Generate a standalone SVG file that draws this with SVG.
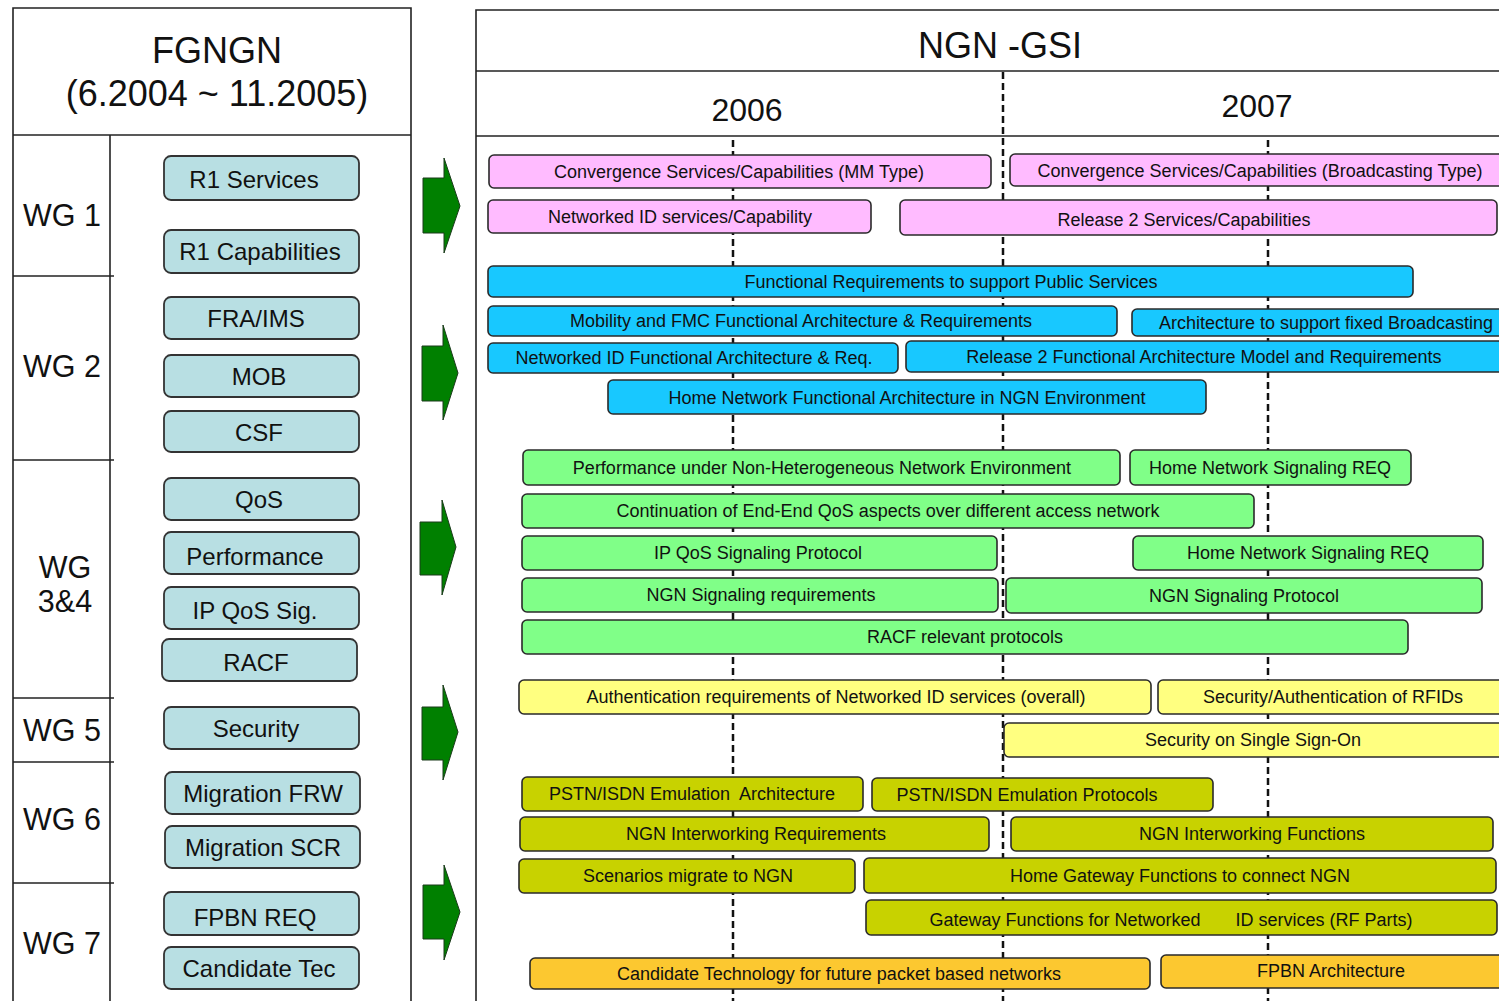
<svg xmlns="http://www.w3.org/2000/svg" width="1499" height="1001" viewBox="0 0 1499 1001">
  <style>
    text { font-family: "Liberation Sans", Arial, sans-serif; fill: #111; }
    .frame { fill: none; stroke: #222; stroke-width: 1.6; }
    .rule { stroke: #222; stroke-width: 1.6; }
    .wg { font-size: 30.5px; }
    .item rect { fill: #b8dfe3; stroke: #333; stroke-width: 1.8; }
    .item text { font-size: 24px; text-anchor: middle; }
    .arrow { fill: #008000; stroke: #1a3a1a; stroke-width: 1; }
    .year { stroke: #111; stroke-width: 2.5; stroke-dasharray: 7 4; fill: none; }
    .bar rect { stroke: #2a2a2a; stroke-width: 1.6; }
    .bar text { font-size: 18px; text-anchor: middle; }
    .pink rect { fill: #ffbbff; }
    .blue rect { fill: #18c8ff; }
    .green rect { fill: #80ff88; }
    .yellow rect { fill: #ffff80; }
    .olive rect { fill: #c8d200; }
    .orange rect { fill: #fcc830; }
  </style>

  <rect width="1499" height="1001" fill="#ffffff"/>

  <!-- FGNGN panel -->
  <g id="fgngn-panel">
    <polyline class="frame" points="13,1001 13,8 411,8 411,1001"/>
    <line class="rule" x1="13" y1="135" x2="411" y2="135"/>
    <line class="rule" x1="110" y1="135" x2="110" y2="1001"/>
    <line class="rule" x1="13" y1="276" x2="114" y2="276"/>
    <line class="rule" x1="13" y1="460" x2="114" y2="460"/>
    <line class="rule" x1="13" y1="698" x2="114" y2="698"/>
    <line class="rule" x1="13" y1="762" x2="114" y2="762"/>
    <line class="rule" x1="13" y1="883" x2="114" y2="883"/>
    <text x="217" y="63" font-size="36" text-anchor="middle">FGNGN</text>
    <text x="217" y="106" font-size="36" text-anchor="middle">(6.2004 ~ 11.2005)</text>
  </g>

  <!-- working group labels -->
  <g id="wg-labels">
    <text class="wg" x="23" y="226">WG 1</text>
    <text class="wg" x="23" y="377">WG 2</text>
    <text class="wg" x="65" y="578" text-anchor="middle">WG</text>
    <text class="wg" x="65" y="612" text-anchor="middle">3&amp;4</text>
    <text class="wg" x="23" y="741">WG 5</text>
    <text class="wg" x="23" y="830">WG 6</text>
    <text class="wg" x="23" y="954">WG 7</text>
  </g>

  <!-- working group items -->
  <g id="item-r1-services" class="item"><rect x="164" y="156" width="195" height="44" rx="7"/><text x="254" y="188">R1 Services</text></g>
  <g id="item-r1-capabilities" class="item"><rect x="164" y="230" width="195" height="43" rx="7"/><text x="260" y="260">R1 Capabilities</text></g>
  <g id="item-fra-ims" class="item"><rect x="164" y="297" width="195" height="42" rx="7"/><text x="256" y="327">FRA/IMS</text></g>
  <g id="item-mob" class="item"><rect x="164" y="355" width="195" height="42" rx="7"/><text x="259" y="385">MOB</text></g>
  <g id="item-csf" class="item"><rect x="164" y="411" width="195" height="41" rx="7"/><text x="259" y="441">CSF</text></g>
  <g id="item-qos" class="item"><rect x="164" y="478" width="195" height="42" rx="7"/><text x="259" y="508">QoS</text></g>
  <g id="item-performance" class="item"><rect x="164" y="532" width="195" height="42" rx="7"/><text x="255" y="565">Performance</text></g>
  <g id="item-ip-qos-sig" class="item"><rect x="164" y="587" width="195" height="42" rx="7"/><text x="255" y="619">IP QoS Sig.</text></g>
  <g id="item-racf" class="item"><rect x="162" y="639" width="195" height="42" rx="7"/><text x="256" y="671">RACF</text></g>
  <g id="item-security" class="item"><rect x="164" y="707" width="195" height="42" rx="7"/><text x="256" y="737">Security</text></g>
  <g id="item-migration-frw" class="item"><rect x="165" y="772" width="195" height="42" rx="7"/><text x="263" y="802">Migration FRW</text></g>
  <g id="item-migration-scr" class="item"><rect x="165" y="826" width="195" height="42" rx="7"/><text x="263" y="856">Migration SCR</text></g>
  <g id="item-fpbn-req" class="item"><rect x="164" y="892" width="195" height="43" rx="7"/><text x="255" y="926">FPBN REQ</text></g>
  <g id="item-candidate-tec" class="item"><rect x="164" y="947" width="195" height="42" rx="7"/><text x="259" y="977">Candidate Tec</text></g>

  <!-- transition arrows -->
  <g id="transition-arrows">
    <polygon class="arrow" points="423,178 444,178 444,158 460,206 444,253 444,233 423,233"/>
    <polygon class="arrow" points="422,346 443,346 443,325 458,373 443,420 443,401 422,401"/>
    <polygon class="arrow" points="420,522 442,522 442,500 456,547 442,595 442,575 420,575"/>
    <polygon class="arrow" points="422,707 443,707 443,685 458,732 443,780 443,760 422,760"/>
    <polygon class="arrow" points="423,885 444,885 444,865 460,912 444,960 444,939 423,939"/>
  </g>

  <!-- NGN-GSI panel -->
  <g id="ngn-gsi-panel">
    <polyline class="frame" points="476,1001 476,10 1499,10"/>
    <line class="rule" x1="476" y1="71" x2="1499" y2="71"/>
    <line class="rule" x1="476" y1="136" x2="1499" y2="136"/>
    <text x="1000" y="58" font-size="36" text-anchor="middle">NGN -GSI</text>
    <text x="747" y="121" font-size="32" text-anchor="middle">2006</text>
    <text x="1257" y="117" font-size="32" text-anchor="middle">2007</text>
  </g>

  <!-- timeline guides -->
  <g id="timeline-guides">
    <line class="year" x1="1003" y1="72" x2="1003" y2="1001"/>
    <line class="year" x1="733" y1="140" x2="733" y2="1001"/>
    <line class="year" x1="1268" y1="140" x2="1268" y2="1001"/>
  </g>

  <!-- services / capabilities -->
  <g id="bar-conv-mm" class="bar pink"><rect x="489" y="155" width="502" height="33" rx="5"/><text x="739" y="178">Convergence Services/Capabilities (MM Type)</text></g>
  <g id="bar-conv-bcast" class="bar pink"><rect x="1010" y="154" width="500" height="32" rx="5"/><text x="1260" y="177">Convergence Services/Capabilities (Broadcasting Type)</text></g>
  <g id="bar-nid-services" class="bar pink"><rect x="488" y="200" width="383" height="33" rx="5"/><text x="680" y="223">Networked ID services/Capability</text></g>
  <g id="bar-r2-services" class="bar pink"><rect x="900" y="200" width="597" height="35" rx="5"/><text x="1184" y="226">Release 2 Services/Capabilities</text></g>

  <!-- functional architecture -->
  <g id="bar-public-services" class="bar blue"><rect x="488" y="266" width="925" height="31" rx="5"/><text x="951" y="288">Functional Requirements to support Public Services</text></g>
  <g id="bar-mobility-fmc" class="bar blue"><rect x="488" y="306" width="629" height="30" rx="5"/><text x="801" y="327">Mobility and FMC Functional Architecture &amp; Requirements</text></g>
  <g id="bar-fixed-bcast" class="bar blue"><rect x="1132" y="309" width="380" height="27" rx="5"/><text x="1326" y="329">Architecture to support fixed Broadcasting</text></g>
  <g id="bar-nid-arch" class="bar blue"><rect x="488" y="343" width="410" height="30" rx="5"/><text x="694" y="364">Networked ID Functional Architecture &amp; Req.</text></g>
  <g id="bar-r2-arch" class="bar blue"><rect x="906" y="341" width="606" height="31" rx="5"/><text x="1204" y="363">Release 2 Functional Architecture Model and Requirements</text></g>
  <g id="bar-home-arch" class="bar blue"><rect x="608" y="380" width="598" height="34" rx="5"/><text x="907" y="404">Home Network Functional Architecture in NGN Environment</text></g>

  <!-- QoS / signalling -->
  <g id="bar-performance" class="bar green"><rect x="523" y="450" width="597" height="35" rx="5"/><text x="822" y="474">Performance under Non-Heterogeneous Network Environment</text></g>
  <g id="bar-home-sig-1" class="bar green"><rect x="1130" y="450" width="281" height="35" rx="5"/><text x="1270" y="474">Home Network Signaling REQ</text></g>
  <g id="bar-e2e-qos" class="bar green"><rect x="522" y="494" width="732" height="34" rx="5"/><text x="888" y="517">Continuation of End-End QoS aspects over different access network</text></g>
  <g id="bar-ip-qos-sig" class="bar green"><rect x="522" y="536" width="475" height="34" rx="5"/><text x="758" y="559">IP QoS Signaling Protocol</text></g>
  <g id="bar-home-sig-2" class="bar green"><rect x="1133" y="536" width="350" height="34" rx="5"/><text x="1308" y="559">Home Network Signaling REQ</text></g>
  <g id="bar-ngn-sig-req" class="bar green"><rect x="522" y="578" width="476" height="34" rx="5"/><text x="761" y="601">NGN Signaling requirements</text></g>
  <g id="bar-ngn-sig-proto" class="bar green"><rect x="1006" y="578" width="476" height="35" rx="5"/><text x="1244" y="602">NGN Signaling Protocol</text></g>
  <g id="bar-racf" class="bar green"><rect x="522" y="620" width="886" height="34" rx="5"/><text x="965" y="643">RACF relevant protocols</text></g>

  <!-- security -->
  <g id="bar-auth-nid" class="bar yellow"><rect x="519" y="680" width="632" height="34" rx="5"/><text x="836" y="703">Authentication requirements of Networked ID services (overall)</text></g>
  <g id="bar-rfid-sec" class="bar yellow"><rect x="1158" y="680" width="354" height="34" rx="5"/><text x="1333" y="703">Security/Authentication of RFIDs</text></g>
  <g id="bar-sso" class="bar yellow"><rect x="1004" y="723" width="508" height="34" rx="5"/><text x="1253" y="746">Security on Single Sign-On</text></g>

  <!-- migration / interworking -->
  <g id="bar-pstn-arch" class="bar olive"><rect x="522" y="777" width="341" height="34" rx="5"/><text x="692" y="800" xml:space="preserve">PSTN/ISDN Emulation  Architecture</text></g>
  <g id="bar-pstn-proto" class="bar olive"><rect x="872" y="778" width="341" height="33" rx="5"/><text x="1027" y="801">PSTN/ISDN Emulation Protocols</text></g>
  <g id="bar-iw-req" class="bar olive"><rect x="520" y="817" width="469" height="34" rx="5"/><text x="756" y="840">NGN Interworking Requirements</text></g>
  <g id="bar-iw-func" class="bar olive"><rect x="1011" y="817" width="482" height="34" rx="5"/><text x="1252" y="840">NGN Interworking Functions</text></g>
  <g id="bar-scenarios" class="bar olive"><rect x="519" y="859" width="336" height="34" rx="5"/><text x="688" y="882">Scenarios migrate to NGN</text></g>
  <g id="bar-home-gw" class="bar olive"><rect x="864" y="858" width="632" height="35" rx="5"/><text x="1180" y="882">Home Gateway Functions to connect NGN</text></g>
  <g id="bar-gw-nid" class="bar olive"><rect x="866" y="900" width="631" height="35" rx="5"/><text y="926"><tspan x="1065">Gateway Functions for Networked</tspan><tspan x="1324">ID services (RF Parts)</tspan></text></g>

  <!-- packet based networks -->
  <g id="bar-candidate" class="bar orange"><rect x="530" y="958" width="620" height="31" rx="5"/><text x="839" y="980">Candidate Technology for future packet based networks</text></g>
  <g id="bar-fpbn-arch" class="bar orange"><rect x="1161" y="955" width="351" height="33" rx="5"/><text x="1331" y="977">FPBN Architecture</text></g>
</svg>
